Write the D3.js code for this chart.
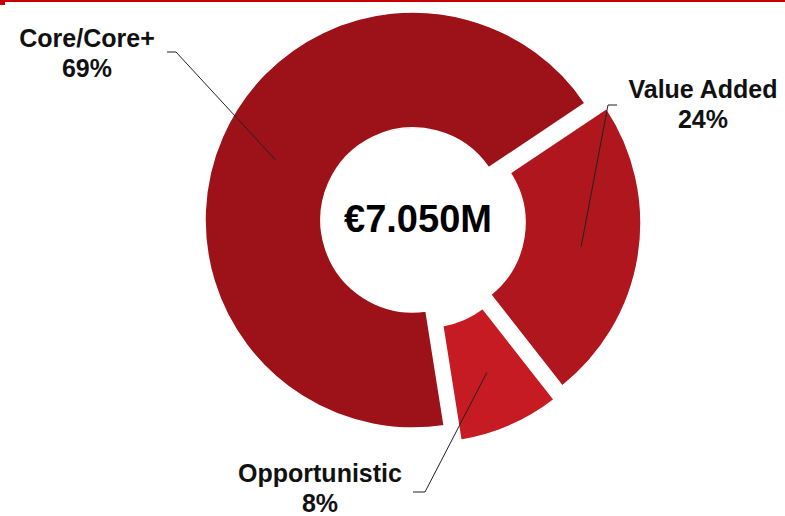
<!DOCTYPE html>
<html>
<head>
<meta charset="utf-8">
<script src="https://cdn.jsdelivr.net/npm/d3@7"></script>
<style>
  body { margin: 0; background: #fff; }
  svg { display: block; }
  .lbl { font-family: "Liberation Sans", Arial, sans-serif; font-weight: bold; font-size: 25px; fill: #111; }
  .total { font-family: "Liberation Sans", Arial, sans-serif; font-weight: bold; font-size: 38px; fill: #000; }
</style>
</head>
<body>
<div class="donut"></div>
<script>
// data
var categories = ["Core/Core+", "Value Added", "Opportunistic"];
var shares = [69, 24, 8];
var totalLabel = "€7.050M";

var svg_width = 785;
var svg_height = 516;

var cx = 413, cy = 220;
var outerR = 208, innerR = 92;

// colours per slice
var colors = { "Core/Core+": "#9d1219", "Value Added": "#af161d", "Opportunistic": "#c61b23" };
// exploded slices (px offset)
var explode = { "Core/Core+": [0, 0], "Value Added": [20, 3], "Opportunistic": [14, 15] };
// label placement
var labelPos = {
  "Core/Core+": { x: 87, y: 47, line: [[167, 52], [176, 52]] },
  "Value Added": { x: 703, y: 98, line: [[617, 105], [608, 105]] },
  "Opportunistic": { x: 320, y: 482, line: [[413, 492], [425, 492]] }
};

var svg = d3.select(".donut")
  .append("svg")
  .attr("width", svg_width)
  .attr("height", svg_height);

// top red rule
svg.append("rect").attr("x", 0).attr("y", 0).attr("width", svg_width).attr("height", 2).attr("fill", "#c80000");
svg.append("rect").attr("x", 0).attr("y", 2).attr("width", 5).attr("height", 3).attr("fill", "#c80000");

var data = categories.map(function(c, i) { return { name: c, value: shares[i] }; });

var start = 171 * Math.PI / 180;
var pie = d3.pie()
  .sort(null)
  .value(function(d) { return d.value; })
  .startAngle(start)
  .endAngle(start + 2 * Math.PI)
  .padAngle(0.012);

var arc = d3.arc().innerRadius(innerR).outerRadius(outerR);

var g = svg.append("g").attr("transform", "translate(" + cx + "," + cy + ")");

var slices = g.selectAll("g.slice")
  .data(pie(data))
  .enter()
  .append("g")
  .attr("class", "slice")
  .attr("transform", function(d) {
    var o = explode[d.data.name];
    return "translate(" + o[0] + "," + o[1] + ")";
  });

slices.append("path")
  .attr("d", arc)
  .attr("fill", function(d) { return colors[d.data.name]; })
  .attr("stroke", "#fff")
  .attr("stroke-width", 1.5);

// leader lines
slices.each(function(d) {
  var o = explode[d.data.name];
  var c = arc.centroid(d);
  var lp = labelPos[d.data.name];
  var pts = lp.line.concat([[cx + o[0] + c[0], cy + o[1] + c[1]]]);
  svg.append("path")
    .attr("d", d3.line()(pts))
    .attr("fill", "none")
    .attr("stroke", "#222")
    .attr("stroke-width", 1);
});

// labels
data.forEach(function(d) {
  var lp = labelPos[d.name];
  var t = svg.append("text").attr("class", "lbl").attr("text-anchor", "middle");
  t.append("tspan").attr("x", lp.x).attr("y", lp.y).text(d.name);
  t.append("tspan").attr("x", lp.x).attr("y", lp.y + 30).text(d.value + "%");
});

// total in the hole
svg.append("text")
  .attr("class", "total")
  .attr("text-anchor", "middle")
  .attr("x", 418)
  .attr("y", 232)
  .text(totalLabel);
</script>
</body>
</html>
